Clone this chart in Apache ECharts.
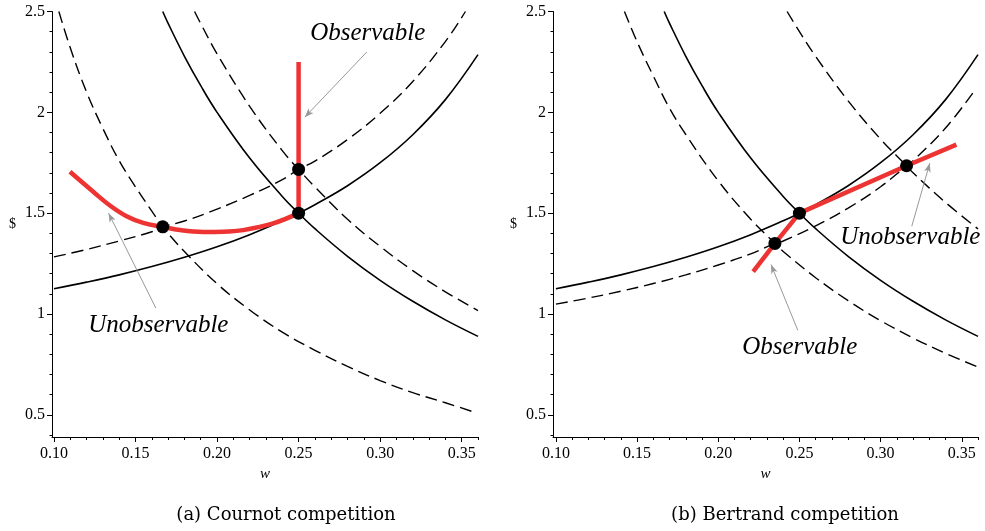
<!DOCTYPE html>
<html>
<head>
<meta charset="utf-8">
<script src="https://cdn.jsdelivr.net/npm/echarts@6/dist/echarts.min.js"></script>
<style>
  html, body { margin: 0; padding: 0; background: #fff; }
  #chart { width: 985px; height: 531px; }
</style>
</head>
<body>
<div id="chart"></div>
<script>
// axis ticks
var xTicks = [0.10, 0.15, 0.20, 0.25, 0.30, 0.35];
var yTicks = [0.5, 1, 1.5, 2, 2.5];

// solid curves (same in both panels)
var solidUp = [[0.10,1.125],[0.12,1.158],[0.14,1.194],[0.16,1.235],[0.18,1.281],[0.20,1.333],[0.22,1.393],[0.24,1.462],[0.25,1.5],[0.26,1.542],[0.28,1.636],[0.30,1.75],[0.32,1.889],[0.34,2.063],[0.36,2.286]];
var solidDown = [[0.1667,2.5],[0.17,2.441],[0.18,2.278],[0.19,2.132],[0.20,2.0],[0.22,1.773],[0.24,1.583],[0.25,1.5],[0.26,1.423],[0.28,1.286],[0.30,1.167],[0.32,1.063],[0.34,0.971],[0.36,0.889]];

// (a) Cournot
var cDashLow = [[0.103,2.5],[0.11,2.32],[0.12,2.10],[0.13,1.92],[0.14,1.76],[0.15,1.63],[0.16,1.51],[0.1667,1.432],[0.18,1.31],[0.20,1.15],[0.22,1.02],[0.24,0.91],[0.26,0.82],[0.28,0.74],[0.30,0.67],[0.32,0.61],[0.34,0.56],[0.357,0.515]];
var cDashHigh = [[0.1862,2.5],[0.19,2.44],[0.20,2.29],[0.22,2.03],[0.24,1.81],[0.25,1.717],[0.26,1.63],[0.28,1.47],[0.30,1.335],[0.32,1.215],[0.34,1.11],[0.36,1.017]];
var cDashUp = [[0.10,1.283],[0.12,1.32],[0.14,1.362],[0.16,1.408],[0.1667,1.432],[0.18,1.461],[0.20,1.52],[0.22,1.588],[0.24,1.666],[0.25,1.717],[0.26,1.758],[0.28,1.865],[0.30,1.995],[0.32,2.153],[0.34,2.351],[0.3523,2.5]];
var cRed = [[0.1098,1.705],[0.1241,1.606],[0.1343,1.538],[0.1445,1.485],[0.1547,1.452],[0.1667,1.432],[0.1772,1.416],[0.1915,1.407],[0.2037,1.408],[0.216,1.416],[0.2344,1.449],[0.25,1.5]];
var cRedVertical = [[0.25,1.5],[0.25,2.25]];
var cDots = [[0.1667,1.432],[0.25,1.5],[0.25,1.717]];

// (b) Bertrand
var bDashLow = [[0.1422,2.5],[0.15,2.35],[0.16,2.18],[0.17,2.02],[0.18,1.89],[0.20,1.66],[0.22,1.47],[0.2349,1.35],[0.24,1.31],[0.26,1.18],[0.28,1.066],[0.30,0.967],[0.32,0.881],[0.34,0.805],[0.36,0.737]];
var bDashHigh = [[0.2424,2.5],[0.25,2.4],[0.26,2.277],[0.28,2.057],[0.30,1.867],[0.316,1.735],[0.32,1.70],[0.34,1.553],[0.36,1.422]];
var bDashUp = [[0.10,1.049],[0.12,1.079],[0.14,1.113],[0.16,1.151],[0.18,1.194],[0.20,1.243],[0.22,1.298],[0.2349,1.35],[0.24,1.362],[0.26,1.437],[0.28,1.525],[0.30,1.631],[0.316,1.735],[0.32,1.76],[0.34,1.922],[0.359,2.12]];
var bRed = [[0.2215,1.21],[0.2349,1.35],[0.25,1.5],[0.316,1.735],[0.3467,1.84]];
var bDots = [[0.2349,1.35],[0.25,1.5],[0.316,1.735]];

// annotations: [x, y, text] and arrows [from, to]
var cNotes = [[0.2924,2.393,'Observable'],[0.164,0.944,'Unobservable']];
var cArrows = [[[0.2918,2.299],[0.2538,1.976]], [[0.1625,1.029],[0.1335,1.50]]];
var bNotes = [[0.3183,1.382,'Unobservable'],[0.2502,0.836,'Observable']];
var bArrows = [[[0.3192,1.435],[0.3303,1.748]], [[0.249,0.919],[0.2325,1.245]]];

var captions = ['(a) Cournot competition', '(b) Bertrand competition'];

var serif = '"Liberation Serif", "Times New Roman", serif';
var RED = '#ee3333';

// minor tick positions
var xMinor = [], yMinor = [];
for (var i = 10; i <= 36; i++) { if (i % 5) xMinor.push(i / 100); }
for (var j = 4; j <= 25; j++) { if (j % 5) yMinor.push(j / 10); }

function makeX(gi, min) {
  return [{
    gridIndex: gi, type: 'value', min: min, max: 0.36, position: 'bottom',
    axisLine: { onZero: false, lineStyle: { color: '#000', width: 1 } },
    axisTick: { length: 5, customValues: xTicks, lineStyle: { color: '#000' } },
    axisLabel: { customValues: xTicks, color: '#000', fontFamily: serif, fontSize: 16, margin: 9,
      formatter: function (v) { return v.toFixed(2); } },
    splitLine: { show: false },
    name: 'w', nameLocation: 'middle', nameGap: 24,
    nameTextStyle: { fontFamily: serif, fontStyle: 'italic', fontSize: 15, color: '#000' }
  }, {
    gridIndex: gi, type: 'value', min: min, max: 0.36, position: 'bottom', offset: 0,
    axisLine: { show: false }, axisLabel: { show: false }, splitLine: { show: false },
    axisTick: { length: 3, customValues: xMinor, lineStyle: { color: '#000' } }
  }];
}

function makeY(gi) {
  return [{
    gridIndex: gi, type: 'value', min: 0.39, max: 2.5, position: 'left',
    axisLine: { show: true, onZero: false, lineStyle: { color: '#000', width: 1 } },
    axisTick: { show: true, length: 5, customValues: yTicks, lineStyle: { color: '#000' } },
    axisLabel: { customValues: yTicks, color: '#000', fontFamily: serif, fontSize: 16, margin: 7 },
    splitLine: { show: false },
    name: '$', nameLocation: 'middle', nameRotate: 0, nameGap: 36,
    nameTextStyle: { fontFamily: serif, fontSize: 14, color: '#000' }
  }, {
    gridIndex: gi, type: 'value', min: 0.39, max: 2.5, position: 'left', offset: 0,
    axisLine: { show: false }, axisLabel: { show: false }, splitLine: { show: false },
    axisTick: { show: true, length: 2.5, customValues: yMinor, lineStyle: { color: '#000' } }
  }];
}

function curve(data, xi, dashed) {
  return {
    type: 'line', xAxisIndex: xi, yAxisIndex: xi, data: data,
    showSymbol: false, smooth: 0.4,
    lineStyle: { color: '#000', width: dashed ? 1.4 : 1.6, type: dashed ? [12, 6] : 'solid' },
    z: 2
  };
}

function redLine(data, xi, smooth) {
  return {
    type: 'line', xAxisIndex: xi, yAxisIndex: xi, data: data,
    showSymbol: false, smooth: smooth ? 0.4 : false,
    lineStyle: { color: RED, width: 4.5, cap: 'butt' }, z: 3
  };
}

function dots(data, xi) {
  return {
    type: 'scatter', xAxisIndex: xi, yAxisIndex: xi, data: data,
    symbolSize: 13, itemStyle: { color: '#000', opacity: 1 }, z: 5
  };
}

function notes(data, arrows, xi) {
  return {
    type: 'scatter', xAxisIndex: xi, yAxisIndex: xi, data: data,
    symbolSize: 1, itemStyle: { color: 'rgba(0,0,0,0)', opacity: 1 }, z: 6,
    label: { show: true, position: 'inside', color: '#000', opacity: 1, textBorderWidth: 0,
      fontFamily: serif, fontStyle: 'italic', fontSize: 25,
      formatter: function (p) { return p.data[2]; } },
    markLine: {
      silent: true, animation: false, symbol: ['none', 'arrow'], symbolSize: [5, 9],
      label: { show: false }, lineStyle: { color: '#999', width: 1, type: 'solid', opacity: 1 },
      data: arrows.map(function (a) { return [{ coord: a[0] }, { coord: a[1] }]; })
    }
  };
}

var option = {
  animation: false,
  backgroundColor: '#fff',
  grid: [
    { left: 52, top: 11.5, width: 426, height: 425.5 },
    { left: 553, top: 11.5, width: 425, height: 425.5 }
  ],
  xAxis: makeX(0, 0.0988).concat(makeX(1, 0.0982)),
  yAxis: makeY(0).concat(makeY(1)),
  series: [
    // Cournot
    curve(solidUp, 0, false), curve(solidDown, 0, false),
    curve(cDashLow, 0, true), curve(cDashHigh, 0, true), curve(cDashUp, 0, true),
    redLine(cRed, 0, true), redLine(cRedVertical, 0, false),
    dots(cDots, 0), notes(cNotes, cArrows, 0),
    // Bertrand
    curve(solidUp, 2, false), curve(solidDown, 2, false),
    curve(bDashLow, 2, true), curve(bDashHigh, 2, true), curve(bDashUp, 2, true),
    redLine(bRed, 2, false),
    dots(bDots, 2), notes(bNotes, bArrows, 2)
  ],
  graphic: [
    { type: 'text', x: 286, y: 515, style: { text: captions[0], font: '18px "DejaVu Serif", serif', fill: '#000', textAlign: 'center', textVerticalAlign: 'middle' } },
    { type: 'text', x: 785, y: 515, style: { text: captions[1], font: '18px "DejaVu Serif", serif', fill: '#000', textAlign: 'center', textVerticalAlign: 'middle' } }
  ]
};

var myChart = echarts.init(document.getElementById('chart'));
myChart.setOption(option);
</script>
</body>
</html>
